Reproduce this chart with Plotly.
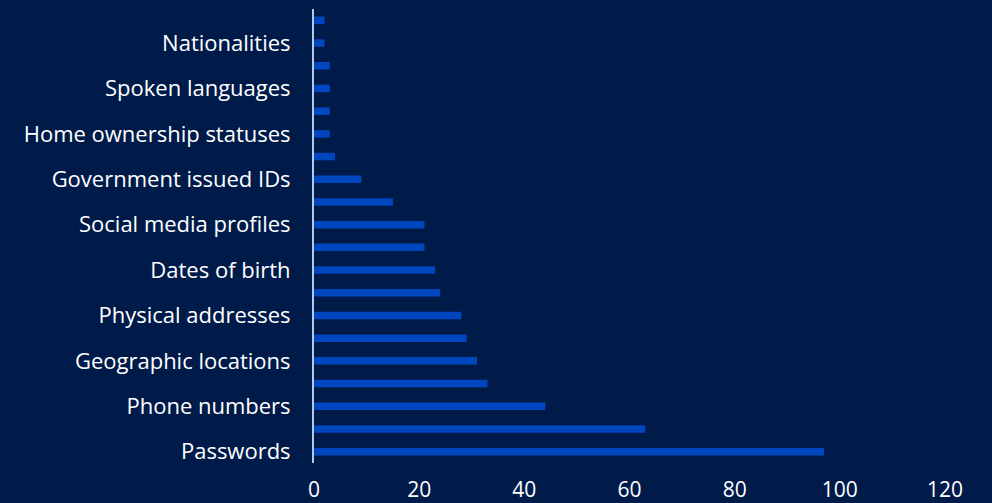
import plotly.graph_objects as go

# Data classes exposed, ordered from most to least frequent (bottom to top)
categories = [
    "Passwords", "Email addresses", "Phone numbers", "Usernames",
    "Geographic locations", "IP addresses", "Physical addresses", "Names",
    "Dates of birth", "Genders", "Social media profiles", "Job titles",
    "Government issued IDs", "Employers", "Home ownership statuses",
    "Income levels", "Spoken languages", "Marital statuses",
    "Nationalities", "Ethnicities",
]
counts = [97, 63, 44, 33, 31, 29, 28, 24, 23, 21, 21, 15, 9, 4, 3, 3, 3, 3, 2, 2]

# Only every other category gets a tick label
labelled = categories[::2]

x_ticks = [0, 20, 40, 60, 80, 100, 120]

BG = "#001B4A"
BAR = "#0046BE"
TEXT = "#FFFFFF"

fig = go.Figure(
    go.Bar(
        x=counts,
        y=categories,
        orientation="h",
        marker=dict(color=BAR, line=dict(width=0)),
        width=0.33,
    )
)

fig.update_layout(
    width=992,
    height=503,
    paper_bgcolor=BG,
    plot_bgcolor=BG,
    margin=dict(l=314, r=47, t=9, b=40),
    font=dict(family="Open Sans, sans-serif", size=22, color=TEXT),
    showlegend=False,
    bargap=0.67,
)

fig.update_xaxes(
    range=[0, 120],
    tickmode="array",
    tickvals=x_ticks,
    showgrid=False,
    zeroline=False,
    showline=False,
    ticks="outside",
    ticklen=8,
    tickcolor=BG,
    automargin=False,
    tickfont=dict(size=21, color=TEXT),
)

fig.update_yaxes(
    type="category",
    categoryorder="array",
    categoryarray=categories,
    tickmode="array",
    tickvals=labelled,
    showgrid=False,
    zeroline=False,
    showline=True,
    linecolor="#B4C8EC",
    linewidth=2,
    ticks="outside",
    ticklen=17,
    tickcolor=BG,
    automargin=False,
    tickfont=dict(size=22, color=TEXT),
)

fig.write_html("out.html")
